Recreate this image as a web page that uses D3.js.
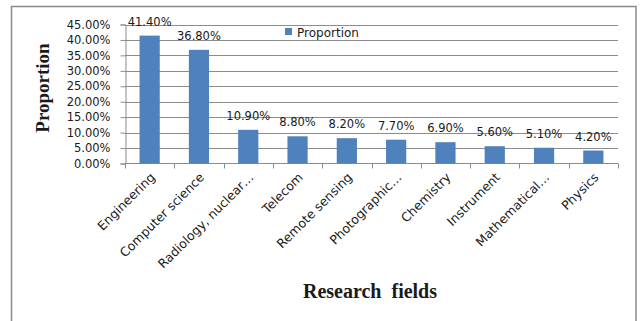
<!DOCTYPE html>
<html>
<head>
<meta charset="utf-8">
<script src="https://cdn.jsdelivr.net/npm/d3@7"></script>
<style>
  html, body { margin: 0; padding: 0; background: #fff; }
  svg { display: block; }
  text { fill: #1a1a1a; }
</style>
</head>
<body>
<svg id="chart" width="643" height="321"></svg>
<script>
// Share of publications by research field
const fields = ["Engineering", "Computer science", "Radiology, nuclear…", "Telecom",
  "Remote sensing", "Photographic…", "Chemistry", "Instrument", "Mathematical…", "Physics"];
const proportion = [41.4, 36.8, 10.9, 8.8, 8.2, 7.7, 6.9, 5.6, 5.1, 4.2];
const yTicks = [0, 5, 10, 15, 20, 25, 30, 35, 40, 45];
const seriesName = "Proportion";

const svg = d3.select("#chart");
const smallFont = "'DejaVu Sans', sans-serif";
const titleFont = "'Liberation Serif', 'Times New Roman', serif";
const barColor = "#4f81bd";
const gridColor = "#8c8c8c";

// chart frame (open at the bottom)
svg.append("path")
  .attr("d", "M11.5,321 V6.5 H636 V321")
  .attr("fill", "none").attr("stroke", "#8a8a8a").attr("stroke-width", 1.5);

const x = d3.scaleBand().domain(fields).range([125, 618]).paddingInner(0.59).paddingOuter(0.295);
const y = d3.scaleLinear().domain([0, 45]).range([163.5, 24.5]);

// horizontal gridlines
svg.append("g").selectAll("line").data(yTicks.filter(d => d > 0)).join("line")
  .attr("x1", 125).attr("x2", 618)
  .attr("y1", d => Math.round(y(d)) + 0.5).attr("y2", d => Math.round(y(d)) + 0.5)
  .attr("stroke", gridColor).attr("stroke-width", 1);

// y axis
const yAxis = svg.append("g").attr("transform", "translate(125.5,0)")
  .call(d3.axisLeft(y).tickValues(yTicks).tickSize(5).tickPadding(10)
    .tickFormat(d => d.toFixed(2) + "%"));
yAxis.select(".domain").attr("stroke", gridColor);
yAxis.selectAll(".tick line").attr("stroke", gridColor);
yAxis.selectAll(".tick text").attr("font-family", smallFont).attr("font-size", 11.5)
  .style("fill", "#1a1a1a");

// x axis with ticks at category boundaries
const step = x.step();
const boundaries = d3.range(fields.length + 1).map(i => 125 + i * step);
const xg = svg.append("g");
xg.append("line").attr("x1", 125).attr("x2", 618).attr("y1", 163.5).attr("y2", 163.5)
  .attr("stroke", gridColor);
xg.selectAll("line.tk").data(boundaries).join("line").attr("class", "tk")
  .attr("x1", d => Math.round(d) + 0.5).attr("x2", d => Math.round(d) + 0.5)
  .attr("y1", 163.5).attr("y2", 168.5).attr("stroke", gridColor);

// category labels, rotated
svg.append("g").selectAll("text").data(fields).join("text")
  .attr("transform", d => `translate(${x(d) + x.bandwidth() / 2 + 3},${175}) rotate(-45)`)
  .attr("text-anchor", "end").attr("dy", "0.35em")
  .attr("font-family", smallFont).attr("font-size", 12.5)
  .text(d => d);

// bars
svg.append("g").selectAll("rect").data(proportion).join("rect")
  .attr("x", (d, i) => x(fields[i]))
  .attr("y", d => y(d))
  .attr("width", x.bandwidth())
  .attr("height", d => y(0) - y(d))
  .attr("fill", barColor);

// value labels
svg.append("g").selectAll("text").data(proportion).join("text")
  .attr("x", (d, i) => x(fields[i]) + x.bandwidth() / 2)
  .attr("y", d => y(d) - 10)
  .attr("text-anchor", "middle")
  .attr("font-family", smallFont).attr("font-size", 11.5)
  .text(d => d.toFixed(2) + "%");

// legend
const lg = svg.append("g").attr("transform", "translate(285,28)");
lg.append("rect").attr("width", 7).attr("height", 7).attr("fill", barColor);
lg.append("text").attr("x", 12).attr("y", 8.5)
  .attr("font-family", smallFont).attr("font-size", 12).text(seriesName);

// axis titles
svg.append("text")
  .attr("transform", "translate(49,88) rotate(-90)")
  .attr("text-anchor", "middle")
  .attr("font-family", titleFont).attr("font-weight", "bold").attr("font-size", 19)
  .text("Proportion");

svg.append("text")
  .attr("x", 370).attr("y", 298)
  .attr("text-anchor", "middle")
  .attr("font-family", titleFont).attr("font-weight", "bold").attr("font-size", 20)
  .attr("xml:space", "preserve").style("white-space", "pre")
  .text("Research  fields");
</script>
</body>
</html>
